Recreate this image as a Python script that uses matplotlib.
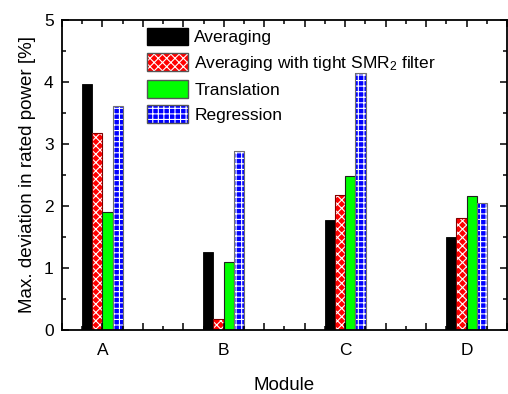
import matplotlib.pyplot as plt
import numpy as np

plt.rcParams['font.family'] = ['Liberation Sans', 'DejaVu Sans']
plt.rcParams['mathtext.fontset'] = 'custom'
plt.rcParams['mathtext.rm'] = 'Liberation Sans'
plt.rcParams['mathtext.it'] = 'Liberation Sans'
plt.rcParams['hatch.linewidth'] = 0.8

modules = ['A', 'B', 'C', 'D']
averaging = [3.97, 1.25, 1.77, 1.50]
averaging_tight = [3.17, 0.17, 2.17, 1.80]
translation = [1.91, 1.09, 2.49, 2.16]
regression = [3.62, 2.88, 4.15, 2.05]

labels = ['Averaging', 'Averaging with tight SMR$_2$ filter', 'Translation', 'Regression']

fig = plt.figure(figsize=(5.08, 3.94), dpi=100)
ax = fig.add_axes([0.122, 0.1624, 0.876, 0.787])

x = np.arange(1, len(modules) + 1)
w = 0.085

# black / red crosshatch / green / blue grid
ax.bar(x - 1.5 * w, averaging, w, color='black', edgecolor='black', linewidth=0.6)
ax.bar(x - 0.5 * w, averaging_tight, w, color='#ff0000', edgecolor='white', hatch='xxxx', linewidth=0)
ax.bar(x - 0.5 * w, averaging_tight, w, fill=False, edgecolor='#800000', linewidth=0.8)
ax.bar(x + 0.5 * w, translation, w, color='#00ff00', edgecolor='#202020', linewidth=0.8)
ax.bar(x + 1.5 * w, regression, w, color='#0000ff', edgecolor='white', hatch='+++', linewidth=0)
ax.bar(x + 1.5 * w, regression, w, fill=False, edgecolor='#707070', linewidth=0.8)

# legend handles built the same way
h1 = plt.Rectangle((0, 0), 1, 1, facecolor='black', edgecolor='black')
h2 = plt.Rectangle((0, 0), 1, 1, facecolor='#ff0000', edgecolor='white', hatch='xxxx', linewidth=0)
h2b = plt.Rectangle((0, 0), 1, 1, fill=False, edgecolor='#555555', linewidth=1)
h3 = plt.Rectangle((0, 0), 1, 1, facecolor='#00ff00', edgecolor='#555555', linewidth=1)
h4 = plt.Rectangle((0, 0), 1, 1, facecolor='#0000ff', edgecolor='white', hatch='+++', linewidth=0)
h4b = plt.Rectangle((0, 0), 1, 1, fill=False, edgecolor='#555555', linewidth=1)
ax.legend([h1, (h2, h2b), h3, (h4, h4b)], labels, loc='upper left',
          bbox_to_anchor=(0.19, 0.975), frameon=False, fontsize=12.5,
          borderpad=0, borderaxespad=0, handlelength=2.4, handleheight=1.2,
          handletextpad=0.35, labelspacing=0.42)

ax.set_xlim(2 / 3, 13 / 3)
ax.set_ylim(0, 5)
ax.set_xticks(np.arange(2 / 3, 13 / 3 + 0.01, 1 / 3))
ax.set_xticklabels(['' if abs(t - round(t)) > 0.01 else modules[int(round(t)) - 1]
                    for t in np.arange(2 / 3, 13 / 3 + 0.01, 1 / 3)])
ax.set_xticks(np.arange(2 / 3, 13 / 3 + 0.01, 1 / 6), minor=True)
ax.set_yticks(np.arange(0, 5.1, 1))
ax.set_yticks(np.arange(0, 5.1, 0.5), minor=True)

ax.tick_params(which='both', direction='in', top=True, right=True, labelsize=12.5, width=1.1)
ax.tick_params(which='major', length=5)
ax.tick_params(axis='x', which='major', pad=9)
ax.tick_params(axis='y', which='major', pad=6)
ax.tick_params(which='minor', length=3)
for s in ax.spines.values():
    s.set_linewidth(1.3)

ax.set_xlabel('Module', fontsize=13.5, labelpad=14)
ax.set_ylabel('Max. deviation in rated power [%]', fontsize=13.5, labelpad=6)

plt.savefig('out.png', dpi=100)
